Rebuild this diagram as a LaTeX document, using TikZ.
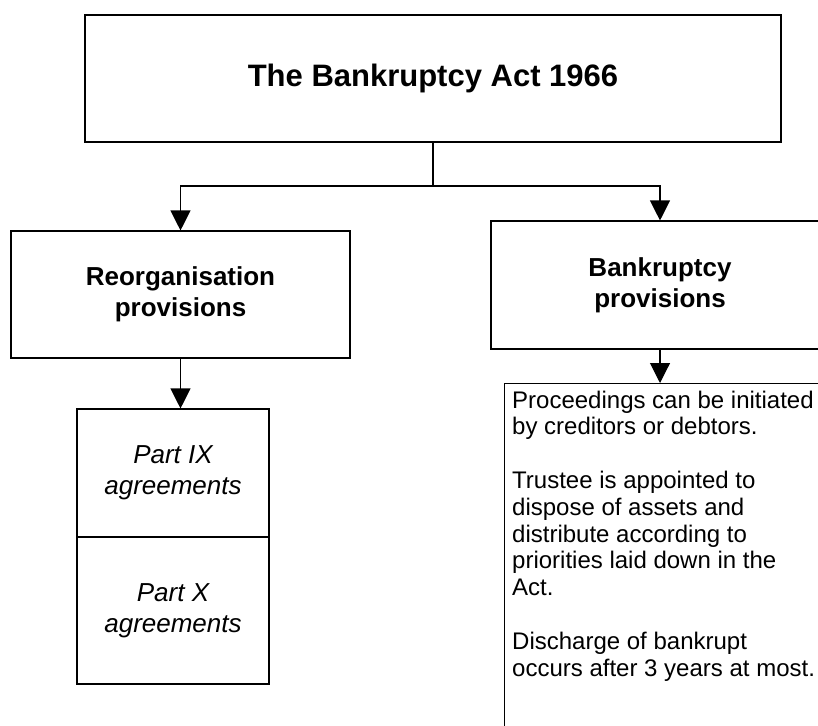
\documentclass[tikz,border=0pt]{standalone}
\usepackage{fontspec}
\setmainfont{Liberation Sans}
\usetikzlibrary{arrows.meta}
\begin{document}
\begin{tikzpicture}[x=1pt,y=-1pt,
  box/.style={draw=black,line width=1.1pt,rectangle,inner sep=0pt,align=center},
  conn/.style={draw=black,line width=1.1pt},
  arr/.style={conn,-{Triangle[width=20pt,length=20pt]}},
  titlefont/.style={font=\fontsize{31}{36}\selectfont\bfseries},
  headfont/.style={font=\fontsize{26}{31}\selectfont\bfseries},
  partfont/.style={font=\fontsize{26}{31}\selectfont\itshape},
  bodyfont/.style={font=\fontsize{24}{26.8}\selectfont}]
\clip (0,0) rectangle (818,725);
\fill[white] (0,0) rectangle (818,725);
\node[box,titlefont,minimum width=696pt,minimum height=127pt] (top) at (433,78.5) {The Bankruptcy Act 1966};
\node[box,headfont,minimum width=339pt,minimum height=127pt] (reorg) at (180.5,294.5) {Reorganisation\\provisions};
\node[box,headfont,minimum width=338pt,minimum height=128pt] (bank) at (660,285) {Bankruptcy\\provisions};
\node[box,partfont,minimum width=192pt,minimum height=128pt] (p9) at (173,473) {Part IX\\agreements};
\node[box,partfont,minimum width=192pt,minimum height=147pt] (p10) at (173,610.5) {Part X\\agreements};
\node[box,minimum width=326pt,minimum height=360pt,anchor=north west] (det) at (504,383) {};
\node[bodyfont,align=left,inner sep=0pt,anchor=north west] (dettext) at (512,390.5)
  {Proceedings can be initiated\\by creditors or debtors.\\[26.8pt]
   Trustee is appointed to\\dispose of assets and\\distribute according to\\priorities laid down in the\\Act.\\[26.8pt]
   Discharge of bankrupt\\occurs after 3 years at most.};
\coordinate (j) at (433,186);
\draw[conn] (top.south) -- (j);
\draw[arr] (j) -| (reorg.north);
\draw[arr] (j) -| (bank.north);
\draw[arr] (reorg.south) -- (reorg.south |- p9.north);
\draw[arr] (bank.south) -- (bank.south |- det.north);
\end{tikzpicture}
\end{document}
